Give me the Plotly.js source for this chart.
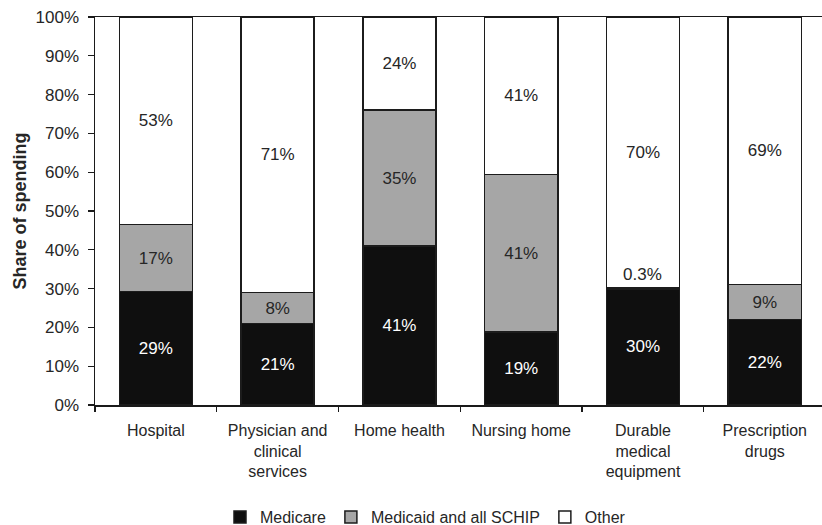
<!DOCTYPE html>
<html>
<head>
<meta charset="utf-8">
<script src="https://cdn.plot.ly/plotly-3.0.1.min.js"></script>
<style>
  html, body { margin: 0; padding: 0; background: #fff; }
  #chart { width: 822px; height: 525px; }
</style>
</head>
<body>
<div id="chart"></div>
<script>
// Service categories (line breaks are part of the axis labels)
const categories = [
  'Hospital',
  'Physician and<br>clinical<br>services',
  'Home health',
  'Nursing home',
  'Durable<br>medical<br>equipment',
  'Prescription<br>drugs'
];

// Share of spending by payer, in percent
const medicare = [29, 21, 41, 19, 30, 22];
const medicaid = [17, 8, 35, 41, 0.3, 9];
const other    = [53, 71, 24, 41, 70, 69];

const seriesNames = ['Medicare', 'Medicaid and all SCHIP', 'Other'];
const yTickVals = [0, 10, 20, 30, 40, 50, 60, 70, 80, 90, 100];

const FONT = '"Liberation Sans", Arial, Helvetica, sans-serif';
const INK = '#262626';
const EDGE = '#1c1c1c';

const pct = v => v + '%';

// Segments too thin for an inside label get their label above the stack instead
const SMALL = 2;
const labelsFor = vals => vals.map(v => (v < SMALL ? '' : pct(v)));

function barTrace(name, vals, fill, textColor) {
  return {
    type: 'bar',
    name: name,
    x: categories,
    y: vals,
    width: 0.6,
    marker: { color: fill, line: { color: EDGE, width: 1.5 } },
    text: labelsFor(vals),
    texttemplate: '%{text}',
    textposition: 'inside',
    insidetextanchor: 'middle',
    constraintext: 'none',
    textfont: { family: FONT, size: 17, color: textColor },
    hoverinfo: 'x+name'
  };
}

const data = [
  barTrace(seriesNames[0], medicare, '#0f0f0f', '#ffffff'),
  barTrace(seriesNames[1], medicaid, '#a6a6a6', INK),
  barTrace(seriesNames[2], other, '#ffffff', INK)
];

// Labels for thin Medicaid segments, set just above the segment (stack normalised to 100)
const annotations = [];
medicaid.forEach((v, i) => {
  if (v < SMALL) {
    const total = medicare[i] + medicaid[i] + other[i];
    annotations.push({
      x: categories[i],
      y: (medicare[i] + v) / total * 100,
      xref: 'x', yref: 'y',
      text: pct(v),
      showarrow: false,
      yanchor: 'bottom',
      yshift: 2,
      font: { family: FONT, size: 17, color: INK }
    });
  }
});

const layout = {
  width: 822,
  height: 525,
  margin: { l: 95, r: 0, t: 17, b: 120, autoexpand: false },
  paper_bgcolor: '#ffffff',
  plot_bgcolor: '#ffffff',
  barmode: 'stack',
  barnorm: 'percent',
  font: { family: FONT, color: INK },
  xaxis: {
    type: 'category',
    range: [-0.5, 5.47],
    automargin: false,
    showline: true,
    mirror: true,
    linecolor: '#1a1a1a',
    linewidth: 1.5,
    ticks: 'outside',
    tickson: 'boundaries',
    ticklen: 5,
    tickwidth: 1.2,
    tickcolor: '#1a1a1a',
    showgrid: false,
    ticklabelstandoff: 10,
    tickfont: { family: FONT, size: 16, color: INK },
    fixedrange: true
  },
  yaxis: {
    range: [0, 100],
    automargin: false,
    tickmode: 'array',
    tickvals: yTickVals,
    ticktext: yTickVals.map(pct),
    showline: true,
    linecolor: '#1a1a1a',
    linewidth: 1.5,
    ticks: 'outside',
    ticklen: 6,
    tickwidth: 1.2,
    tickcolor: '#1a1a1a',
    showgrid: false,
    zeroline: false,
    ticklabelstandoff: 5,
    tickfont: { family: FONT, size: 17, color: INK },
    title: {
      text: '<b>Share of spending</b>',
      font: { family: FONT, size: 18, color: INK },
      standoff: 4
    },
    fixedrange: true
  },
  showlegend: true,
  legend: {
    orientation: 'h',
    x: 0.4546,
    xanchor: 'center',
    y: -0.289,
    yanchor: 'middle',
    font: { family: FONT, size: 16, color: INK },
    itemwidth: 30,
    traceorder: 'normal'
  },
  annotations: annotations
};

Plotly.newPlot('chart', data, layout, { displayModeBar: false, staticPlot: true });
</script>
</body>
</html>
